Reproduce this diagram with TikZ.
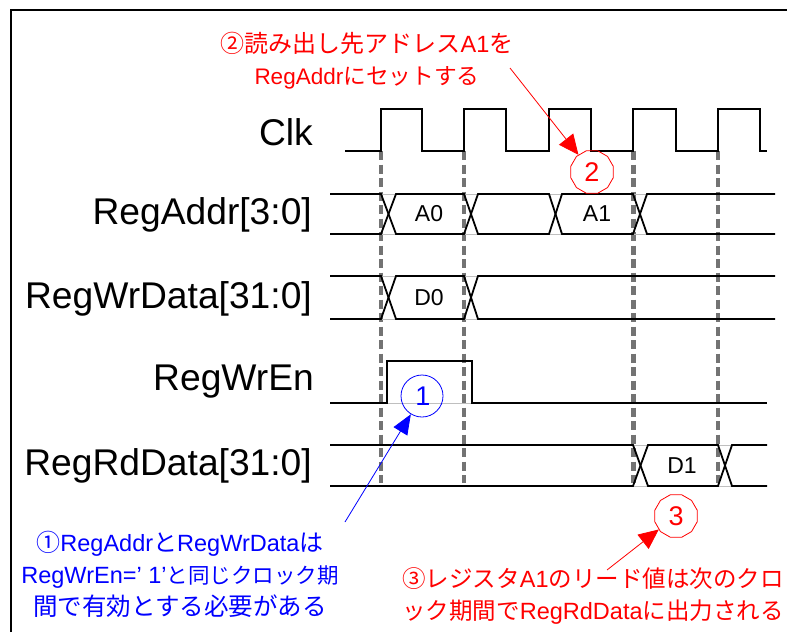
\documentclass[tikz,border=0pt]{standalone}
\usepackage{fontspec}
\setmainfont{Liberation Sans}
\newfontfamily\cjk{Noto Sans CJK JP}
\usetikzlibrary{arrows.meta,shapes.geometric}
\newcommand{\ja}[2][]{{\cjk\if\relax\detokenize{#1}\relax\else\fontsize{#1}{32}\selectfont\fi #2}}
\newcommand{\lt}[2]{{\fontsize{#1}{32}\selectfont #2}}
\tikzset{
  x=1pt,y=-1pt,
  wave/.style={draw=black,line width=1.8pt,line join=miter},
  guide/.style={draw=black!55,line width=4pt,dash pattern=on 9pt off 4.5pt},
  guidethick/.style={guide,line width=5pt},
  faint/.style={draw=black!25,line width=0.8pt},
  siglabel/.style={font=\fontsize{37.2}{37.2}\selectfont,anchor=east,inner sep=0pt,text=black},
  buslabel/.style={font=\fontsize{23}{23}\selectfont,inner sep=0pt,text=black},
  redtxt/.style={text=red,align=center,inner sep=0pt,font=\fontsize{23.5}{32}\selectfont},
  bluetxt/.style={text=blue,align=center,inner sep=0pt,font=\fontsize{23.5}{32}\selectfont},
  redmark/.style={draw=red,text=red,line width=0.8pt,regular polygon,regular polygon sides=12,inner sep=0pt,minimum size=44pt,font=\fontsize{27}{27}\selectfont},
  bluemark/.style={draw=blue,text=blue,line width=0.8pt,circle,inner sep=0pt,minimum size=42pt,font=\fontsize{27}{27}\selectfont},
  redarrow/.style={draw=red,line width=0.8pt,-{Triangle[length=20pt,width=18pt,fill=red]}},
  bluearrow/.style={draw=blue,line width=0.8pt,-{Triangle[length=20pt,width=16pt,fill=blue]}},
}
\begin{document}
\begin{tikzpicture}
\useasboundingbox (0,0) rectangle (787,632);
% frame
\draw[black,line width=2pt] (11,632) -- (11,9.5) -- (787,9.5);
% guides
\draw[guide] (381,151) -- (381,483);
\draw[guide] (464,151) -- (464,483);
\draw[guidethick] (633,151) -- (633,483);
\draw[guide] (718,151) -- (718,483);
% faint bus closures
\foreach \a/\b/\ya/\yb in {381/396/194/234,464/478/194/234,549/562/194/234,633/647/194/234,381/396/276/319,464/478/276/319,633/648/445/486,718/732/445/486}{
  \draw[faint] (\a,\ya) -- (\b,\ya) (\a,\yb) -- (\b,\yb);
}
\draw[faint] (387,403) -- (472,403);
% Clk
\draw[wave] (345,151) -- (381,151) -- (381,109) -- (422,109) -- (422,151) -- (464,151) -- (464,109) -- (506,109) -- (506,151) -- (549,151) -- (549,109) -- (591,109) -- (591,151) -- (633,151) -- (633,109) -- (676,109) -- (676,151) -- (718,151) -- (718,109) -- (760,109) -- (760,151) -- (767,151);
% RegAddr
\draw[wave] (330,194) -- (381,194) -- (396,234) -- (464,234) -- (478,194) -- (549,194) -- (562,234) -- (633,234) -- (647,194) -- (775,194);
\draw[wave] (330,234) -- (381,234) -- (396,194) -- (464,194) -- (478,234) -- (549,234) -- (562,194) -- (633,194) -- (647,234) -- (775,234);
% RegWrData
\draw[wave] (330,276) -- (381,276) -- (396,319) -- (464,319) -- (478,276) -- (775,276);
\draw[wave] (330,319) -- (381,319) -- (396,276) -- (464,276) -- (478,319) -- (775,319);
% RegWrEn
\draw[wave] (330,403) -- (387,403) -- (387,361) -- (472,361) -- (472,403) -- (767,403);
% RegRdData
\draw[wave] (330,445) -- (633,445) -- (648,486) -- (718,486) -- (732,445) -- (767,445);
\draw[wave] (330,486) -- (633,486) -- (648,445) -- (718,445) -- (732,486) -- (767,486);
% signal labels
\node[siglabel] (clk) at (313,132) {Clk};
\node[siglabel] (addr) at (312,215) {RegAddr[3:0]};
\node[siglabel] (wrdata) at (312,299) {RegWrData[31:0]};
\node[siglabel] (wren) at (314,382) {RegWrEn};
\node[siglabel] (rddata) at (312,466) {RegRdData[31:0]};
% bus values
\node[buslabel] (a0) at (429,214) {A0};
\node[buslabel] (a1) at (597,214) {A1};
\node[buslabel] (d0) at (429,298) {D0};
\node[buslabel] (d1) at (682,466) {D1};
% markers
\node[bluemark] (m1) at (422,396) {\kern2pt 1};
\node[redmark] (m2) at (592,172) {2};
\node[redmark] (m3) at (676,516) {3};
% notes
\node[redtxt] (n2) at (367,61) {\ja[24]{②読み出し先アドレス}A1\ja[24]{を}\\\lt{22.5}{RegAddr}\ja[22.7]{にセットする}};
\node[bluetxt] (n1) at (180,574) {\ja[24]{①}RegAddr\ja[24]{と}RegWrData\ja[24]{は}\\RegWrEn=’ 1’\ja[21.5]{と同じクロック期}\\\ja[24.5]{間で有効とする必要がある}};
\node[redtxt] (n3) at (593,596) {\ja{③レジスタ}A1\ja{のリード値は次のクロ}\\\ja{ック期間で}RegRdData\ja{に出力される}};
% arrows
\coordinate (t1) at (345,522);
\coordinate (t2) at (510,68);
\coordinate (t3) at (607,570);
\draw[bluearrow] (t1) -- (m1);
\draw[redarrow] (t2) -- (m2);
\draw[redarrow] (t3) -- (m3);
\end{tikzpicture}
\end{document}
